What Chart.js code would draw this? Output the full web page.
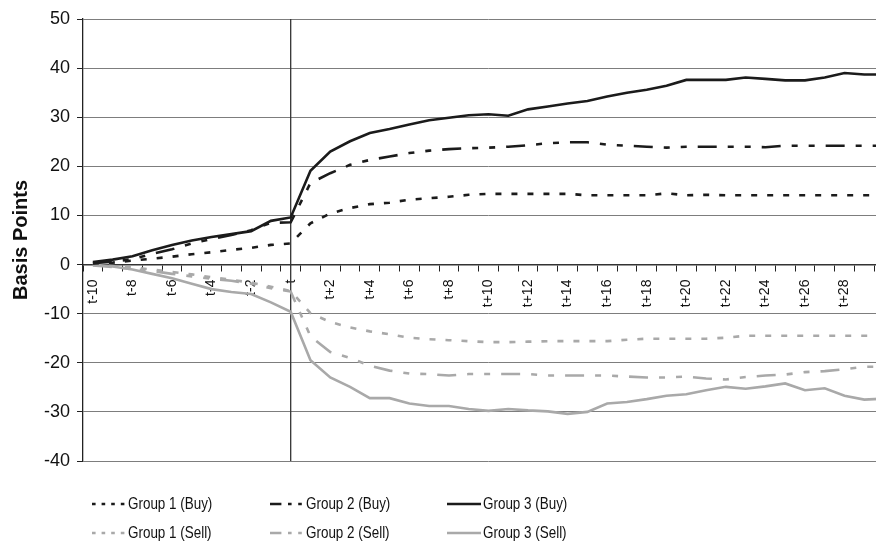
<!DOCTYPE html>
<html>
<head>
<meta charset="utf-8">
<script src="https://cdn.jsdelivr.net/npm/chart.js@4.4.1/dist/chart.umd.min.js"></script>
<style>
  html, body { margin: 0; padding: 0; background: #fff; overflow: hidden; }
  #wrap { position: relative; width: 876px; height: 541px; overflow: hidden; background: #fff; }
  #box { position: absolute; left: 0; top: 0; width: 910px; height: 541px; }
  #legend { position: absolute; left: 0; top: 0; width: 876px; height: 541px; pointer-events: none;
            font-family: "Liberation Sans", Arial, Helvetica, sans-serif; font-size: 17px; color: #111; }
  .item { position: absolute; height: 20px; display: flex; align-items: center; }
  .item svg { display: block; flex: none; }
  .item span { display: inline-block; white-space: nowrap; margin-left: 2px;
               transform: scaleX(0.79); transform-origin: left center; }
</style>
</head>
<body>
<div id="wrap">
  <div id="box"><canvas id="chart"></canvas></div>
  <div id="legend"></div>
</div>
<script>
// Event window: ten days before the event date t to thirty days after
const categories = [
  't-10','t-9','t-8','t-7','t-6','t-5','t-4','t-3','t-2','t-1','t',
  't+1','t+2','t+3','t+4','t+5','t+6','t+7','t+8','t+9','t+10',
  't+11','t+12','t+13','t+14','t+15','t+16','t+17','t+18','t+19','t+20',
  't+21','t+22','t+23','t+24','t+25','t+26','t+27','t+28','t+29','t+30'
];

// Cumulative abnormal returns in basis points
const group1Buy = [0.2, 0.4, 0.8, 1.2, 1.6, 2.1, 2.5, 3.0, 3.4, 4.0, 4.3,
  8.4, 10.4, 11.5, 12.3, 12.6, 13.2, 13.5, 13.8, 14.2, 14.4,
  14.4, 14.4, 14.4, 14.4, 14.1, 14.1, 14.1, 14.1, 14.5, 14.1,
  14.2, 14.1, 14.1, 14.1, 14.1, 14.1, 14.1, 14.1, 14.1, 14.1];
const group2Buy = [0.3, 0.6, 1.1, 2.2, 3.1, 4.3, 5.2, 6.0, 7.0, 8.5, 8.6,
  16.6, 18.6, 20.3, 21.3, 22.0, 22.7, 23.2, 23.5, 23.7, 23.8,
  24.0, 24.3, 24.7, 24.9, 24.9, 24.4, 24.2, 24.0, 23.8, 24.0,
  24.0, 24.0, 24.0, 23.9, 24.2, 24.2, 24.2, 24.2, 24.2, 24.2];
const group3Buy = [0.5, 1.0, 1.7, 2.9, 4.0, 4.9, 5.6, 6.2, 6.8, 8.9, 9.6,
  19.1, 23.0, 25.1, 26.8, 27.6, 28.5, 29.4, 29.9, 30.4, 30.6,
  30.3, 31.6, 32.2, 32.8, 33.3, 34.2, 35.0, 35.6, 36.4, 37.6,
  37.6, 37.6, 38.1, 37.8, 37.5, 37.5, 38.1, 39.0, 38.7, 38.7];
const group1Sell = [-0.1, -0.3, -0.6, -1.0, -1.5, -2.0, -2.6, -3.1, -3.7, -4.5, -5.4,
  -9.9, -11.7, -12.8, -13.6, -14.2, -14.9, -15.2, -15.4, -15.6, -15.8,
  -15.8, -15.7, -15.6, -15.6, -15.6, -15.6, -15.3, -15.1, -15.1, -15.1,
  -15.1, -14.9, -14.5, -14.5, -14.5, -14.5, -14.5, -14.5, -14.5, -14.5];
const group2Sell = [-0.2, -0.5, -0.9, -1.3, -1.9, -2.4, -2.9, -3.3, -3.9, -4.8, -5.5,
  -14.6, -17.8, -19.0, -20.6, -21.6, -22.2, -22.3, -22.6, -22.3, -22.3,
  -22.3, -22.3, -22.6, -22.6, -22.6, -22.6, -22.8, -23.0, -23.0, -22.8,
  -23.2, -23.4, -22.9, -22.6, -22.4, -21.9, -21.7, -21.3, -20.8, -20.8];
const group3Sell = [0.0, -0.4, -1.0, -1.9, -2.8, -3.9, -5.0, -5.6, -6.0, -7.7, -9.6,
  -19.5, -23.0, -24.9, -27.2, -27.2, -28.3, -28.8, -28.8, -29.4, -29.8,
  -29.4, -29.7, -29.9, -30.4, -30.0, -28.3, -28.0, -27.4, -26.7, -26.4,
  -25.6, -24.9, -25.3, -24.8, -24.2, -25.6, -25.2, -26.7, -27.5, -27.3];

const seriesNames = ['Group 1 (Buy)', 'Group 2 (Buy)', 'Group 3 (Buy)',
                     'Group 1 (Sell)', 'Group 2 (Sell)', 'Group 3 (Sell)'];

const yMin = -40, yMax = 50, yStep = 10;
const eventLabel = 't';

const BLACK = '#1b1b1b';
const GREY = '#a9a9a9';
const DOTTED = [6, 10];
const DASH_DOT_DOT = [19, 11, 6, 11, 6, 11];

Chart.defaults.font.family = '"Liberation Sans", Arial, Helvetica, sans-serif';
Chart.defaults.color = '#111';

function series(label, data, color, dash) {
  return {
    label, data,
    borderColor: color, backgroundColor: color,
    borderWidth: 2.6, borderDash: dash,
    pointRadius: 0, pointHoverRadius: 0,
    tension: 0, fill: false
  };
}

// Vertical marker at the event date
const eventLine = {
  id: 'eventLine',
  beforeDatasetsDraw(chart) {
    const { ctx, chartArea, scales } = chart;
    const px = scales.x.getPixelForValue(categories.indexOf(eventLabel));
    ctx.save();
    ctx.strokeStyle = '#333';
    ctx.lineWidth = 1.3;
    ctx.beginPath();
    ctx.moveTo(px, chartArea.top);
    ctx.lineTo(px, chartArea.bottom);
    ctx.stroke();
    ctx.restore();
  }
};

const chart = new Chart(document.getElementById('chart'), {
  type: 'line',
  data: {
    labels: categories,
    datasets: [
      series(seriesNames[0], group1Buy, BLACK, DOTTED),
      series(seriesNames[1], group2Buy, BLACK, DASH_DOT_DOT),
      series(seriesNames[2], group3Buy, BLACK, []),
      series(seriesNames[3], group1Sell, GREY, DOTTED),
      series(seriesNames[4], group2Sell, GREY, DASH_DOT_DOT),
      series(seriesNames[5], group3Sell, GREY, [])
    ]
  },
  options: {
    responsive: true,
    maintainAspectRatio: false,
    animation: false,
    layout: { padding: { top: 19, right: 9, bottom: 80, left: 0 } },
    plugins: { legend: { display: false }, tooltip: { enabled: false } },
    scales: {
      x: {
        type: 'category',
        position: { y: 0 },
        offset: true,
        grid: { drawOnChartArea: false, offset: true, tickLength: 6, color: '#222', lineWidth: 1 },
        border: { color: '#333', width: 1.5 },
        ticks: {
          autoSkip: false, minRotation: 90, maxRotation: 90, padding: 9,
          color: '#111', font: { size: 14 },
          callback(value, index) { return index % 2 === 0 ? this.getLabelForValue(value) : ''; }
        }
      },
      y: {
        min: yMin, max: yMax,
        ticks: { stepSize: yStep, padding: 7, color: '#111', font: { size: 18 } },
        grid: { color: '#7d7d7d', lineWidth: 1, tickLength: 6, tickColor: '#222' },
        border: { color: '#222', width: 1.3 },
        title: { display: true, text: 'Basis Points', color: '#111',
                 font: { size: 20, weight: 'bold' }, padding: { top: 9, bottom: 0 } },
        afterFit(scale) { scale.width = 83; }
      }
    }
  },
  plugins: [eventLine]
});

// Legend in three columns and two rows below the plot
(function buildLegend() {
  const items = Chart.defaults.plugins.legend.labels.generateLabels(chart);
  const colX = [92, 270, 447];
  const rowY = [494, 523];
  const host = document.getElementById('legend');
  items.forEach((it, i) => {
    const col = i % 3, row = Math.floor(i / 3);
    const div = document.createElement('div');
    div.className = 'item';
    div.style.left = colX[col] + 'px';
    div.style.top = rowY[row] + 'px';
    const dash = (it.lineDash || []).map(d => (d * 0.6).toFixed(1)).join(' ');
    div.innerHTML =
      '<svg width="34" height="6"><line x1="0" y1="3" x2="34" y2="3" stroke="' + it.strokeStyle +
      '" stroke-width="' + it.lineWidth + '"' + (dash ? ' stroke-dasharray="' + dash + '"' : '') + '/></svg>';
    const span = document.createElement('span');
    span.textContent = it.text;
    div.appendChild(span);
    host.appendChild(div);
  });
})();
</script>
</body>
</html>
